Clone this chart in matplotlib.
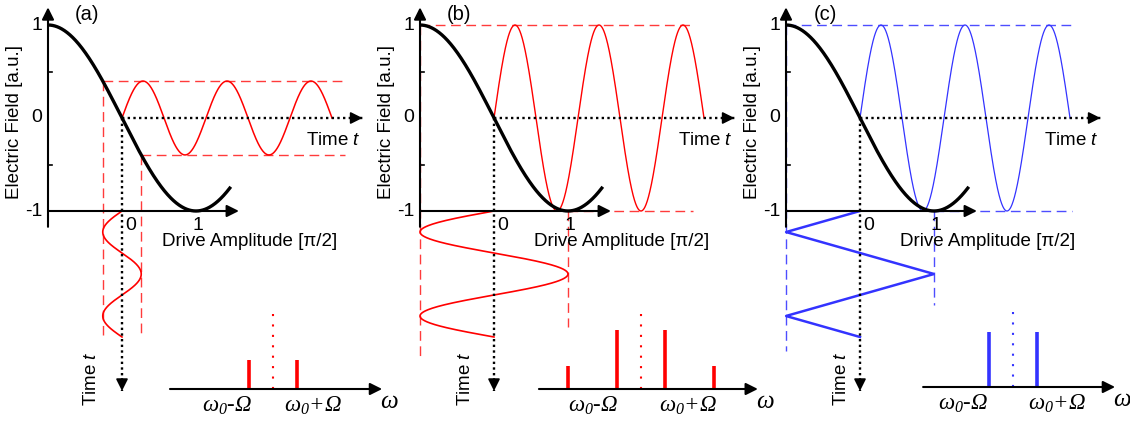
import numpy as np
import matplotlib
matplotlib.use('Agg')
import matplotlib.pyplot as plt

plt.rcParams['font.family'] = ['Liberation Sans', 'DejaVu Sans']
plt.rcParams['mathtext.fontset'] = 'custom'
plt.rcParams['mathtext.rm'] = 'Liberation Serif:italic'
plt.rcParams['mathtext.it'] = 'Liberation Serif:italic'
plt.rcParams['mathtext.sf'] = 'Liberation Sans:italic'

# ---- data ----
panel_tags = ['(a)', '(b)', '(c)']
drive_amp = [0.26, 1.0, 1.0]                 # drive amplitude [pi/2]
drive_shape = ['sine', 'sine', 'triangle']
field_ticks = [1, 0, -1]
field_minor = [0.5, -0.5]
drive_ticks = ['0', '1']
output_periods = 2.5
drive_periods = 1.5
curve_range = (-1.0, 1.47)                   # drive amplitude range of the transfer curve

sideband_orders = [[-1, 1], [-3, -1, 1, 3], [-1, 1]]
sideband_heights = [[0.49, 0.49], [0.39, 1.0, 1.0, 0.39], [0.93, 0.93]]
sideband_labels = [r'$\omega_{0}$-$\Omega$', r'$\omega_{0}$+$\Omega$']

# ---- layout (pixels) ----
W, H = 1130, 421
X_UNIT, Y_UNIT, ZERO_Y = 74.0, 93.0, 118.0
W_UNIT, A_UNIT = 24.3, 59.0
drive_zero_px = [122, 494, 860]
spec_center_px = [273, 641, 1013]
spec_base_px = [389, 389, 387]
spec_span = [(-4.24, 4.49), (-4.2, 4.81), (-3.7, 4.2)]
spec_label_pos = [(-1.9, 1.65), (-1.98, 1.93), (-2.06, 1.81)]
dash_end = [3.01, 2.69, 2.86]
dash_bottom = [(-2.33, -2.33), (-2.58, -2.25), (-2.50, -2.01)]
time_label_dx = [-31, -29, -18]
wave_colors = ['#ff0000', '#ff0000', '#3333ff']
dash_colors = ['#ff3b3b', '#ff3b3b', '#4d4dff']
out_lw = [1.1, 1.0, 0.9]
drv_lw = [1.2, 1.2, 1.8]

period_x = 84 / X_UNIT
period_y = 84 / Y_UNIT

fig = plt.figure(figsize=(W / 100, H / 100), dpi=100)


def arrow(ax, tail, tip, lw=1.5):
    ax.annotate('', xy=tip, xytext=tail,
                arrowprops=dict(arrowstyle='-|>', color='k', lw=lw,
                                mutation_scale=18, shrinkA=0, shrinkB=0))


def dotted_arrow(ax, tail, tip, head):
    ax.plot([tail[0], tip[0]], [tail[1], tip[1]], color='k', lw=1.7,
            linestyle=(0, (1, 1.4)), zorder=5)
    start = (tip[0] - head[0], tip[1] - head[1])
    arrow(ax, start, tip, lw=1.2)


def shape(kind, t):
    if kind == 'sine':
        return np.sin(2 * np.pi * t)
    return 2 / np.pi * np.arcsin(np.sin(2 * np.pi * t))


for i in range(3):
    x0 = drive_zero_px[i]
    A = drive_amp[i]
    col = wave_colors[i]
    dcol = dash_colors[i]

    ax = fig.add_axes([0, 0, 1, 1])
    ax.set_xlim(-x0 / X_UNIT, (W - x0) / X_UNIT)
    ax.set_ylim((ZERO_Y - H) / Y_UNIT, ZERO_Y / Y_UNIT)
    ax.axis('off')

    out = np.sin(np.pi / 2 * A)
    dash = dict(color=dcol, lw=1.0, linestyle=(0, (7, 4)), zorder=1)
    ax.plot([-A, dash_end[i]], [out, out], **dash)
    ax.plot([A, dash_end[i]], [-out, -out], **dash)
    ax.plot([-A, -A], [out, dash_bottom[i][0]], **dash)
    ax.plot([A, A], [-out, dash_bottom[i][1]], **dash)

    # drive (time runs downwards)
    t = np.linspace(0, drive_periods, 600)
    drive = -A * shape(drive_shape[i], t)
    ax.plot(drive, -1 - t * period_y, color=col, lw=drv_lw[i], zorder=3)

    # output field (time runs to the right)
    t = np.linspace(0, output_periods, 1200)
    field = out * np.sin(2 * np.pi * t)
    ax.plot(t * period_x, field, color=col, lw=out_lw[i], zorder=3)

    # transfer curve
    a = np.linspace(curve_range[0], curve_range[1], 400)
    ax.plot(a, -np.sin(np.pi / 2 * a), color='k', lw=2.4, zorder=4,
            solid_capstyle='butt')

    # axes
    arrow(ax, (-1, -1.17), (-1, 1.19))
    arrow(ax, (-1, -1), (1.58, -1))
    for m in field_minor:
        ax.plot([-1, -1 + 4 / X_UNIT], [m, m], color='k', lw=1.2)
    for v in field_ticks:
        ax.text(-1 - 6 / X_UNIT, v, str(v), ha='right', va='center', fontsize=14)
    ax.text(0.05, -1.16, drive_ticks[0], ha='left', va='center', fontsize=14)
    ax.text(1.03, -1.16, drive_ticks[1], ha='center', va='center', fontsize=14)
    ax.text(0.54, -1.33, 'Drive Amplitude [π/2]', ha='left', va='center', fontsize=13.5)
    ax.text(-1.45, -0.04, 'Electric Field [a.u.]', rotation=90, ha='center',
            va='center', fontsize=13.5)
    ax.text(-0.47, 1.11, panel_tags[i], ha='center', va='center', fontsize=14.5)

    # time axes
    dotted_arrow(ax, (0, 0), (3.25, 0), (0.16, 0))
    dotted_arrow(ax, (0, 0), (0, -2.935), (0, -0.13))
    ax.text(3.22, -0.24, r'Time $\mathsf{t}$', ha='right', va='center', fontsize=13.5)
    ax.text(time_label_dx[i] / X_UNIT, -2.8, r'Time $\mathsf{t}$', rotation=90,
            ha='center', va='center', fontsize=13.5)

    # spectrum
    cx = spec_center_px[i]
    by = spec_base_px[i]
    sx = fig.add_axes([0, 0, 1, 1])
    sx.set_xlim(-cx / W_UNIT, (W - cx) / W_UNIT)
    sx.set_ylim((by - H) / A_UNIT, by / A_UNIT)
    sx.axis('off')
    lo, hi = spec_span[i]
    arrow(sx, (lo, 0), (hi, 0))
    sx.vlines(sideband_orders[i], 0, sideband_heights[i], color=col, lw=2.6)
    sx.vlines([0], 0, 1.29, color=col, lw=1.5, linestyle=(0, (1, 4)))
    for pos, lab in zip(spec_label_pos[i], sideband_labels):
        sx.text(pos, -0.29, lab, ha='center', va='center', fontsize=16.5,
                family='Liberation Serif', style='italic')
    sx.text(hi + 0.3, -0.2, r'$\omega$', ha='center', va='center', fontsize=18)

fig.savefig('out.png', dpi=100)
